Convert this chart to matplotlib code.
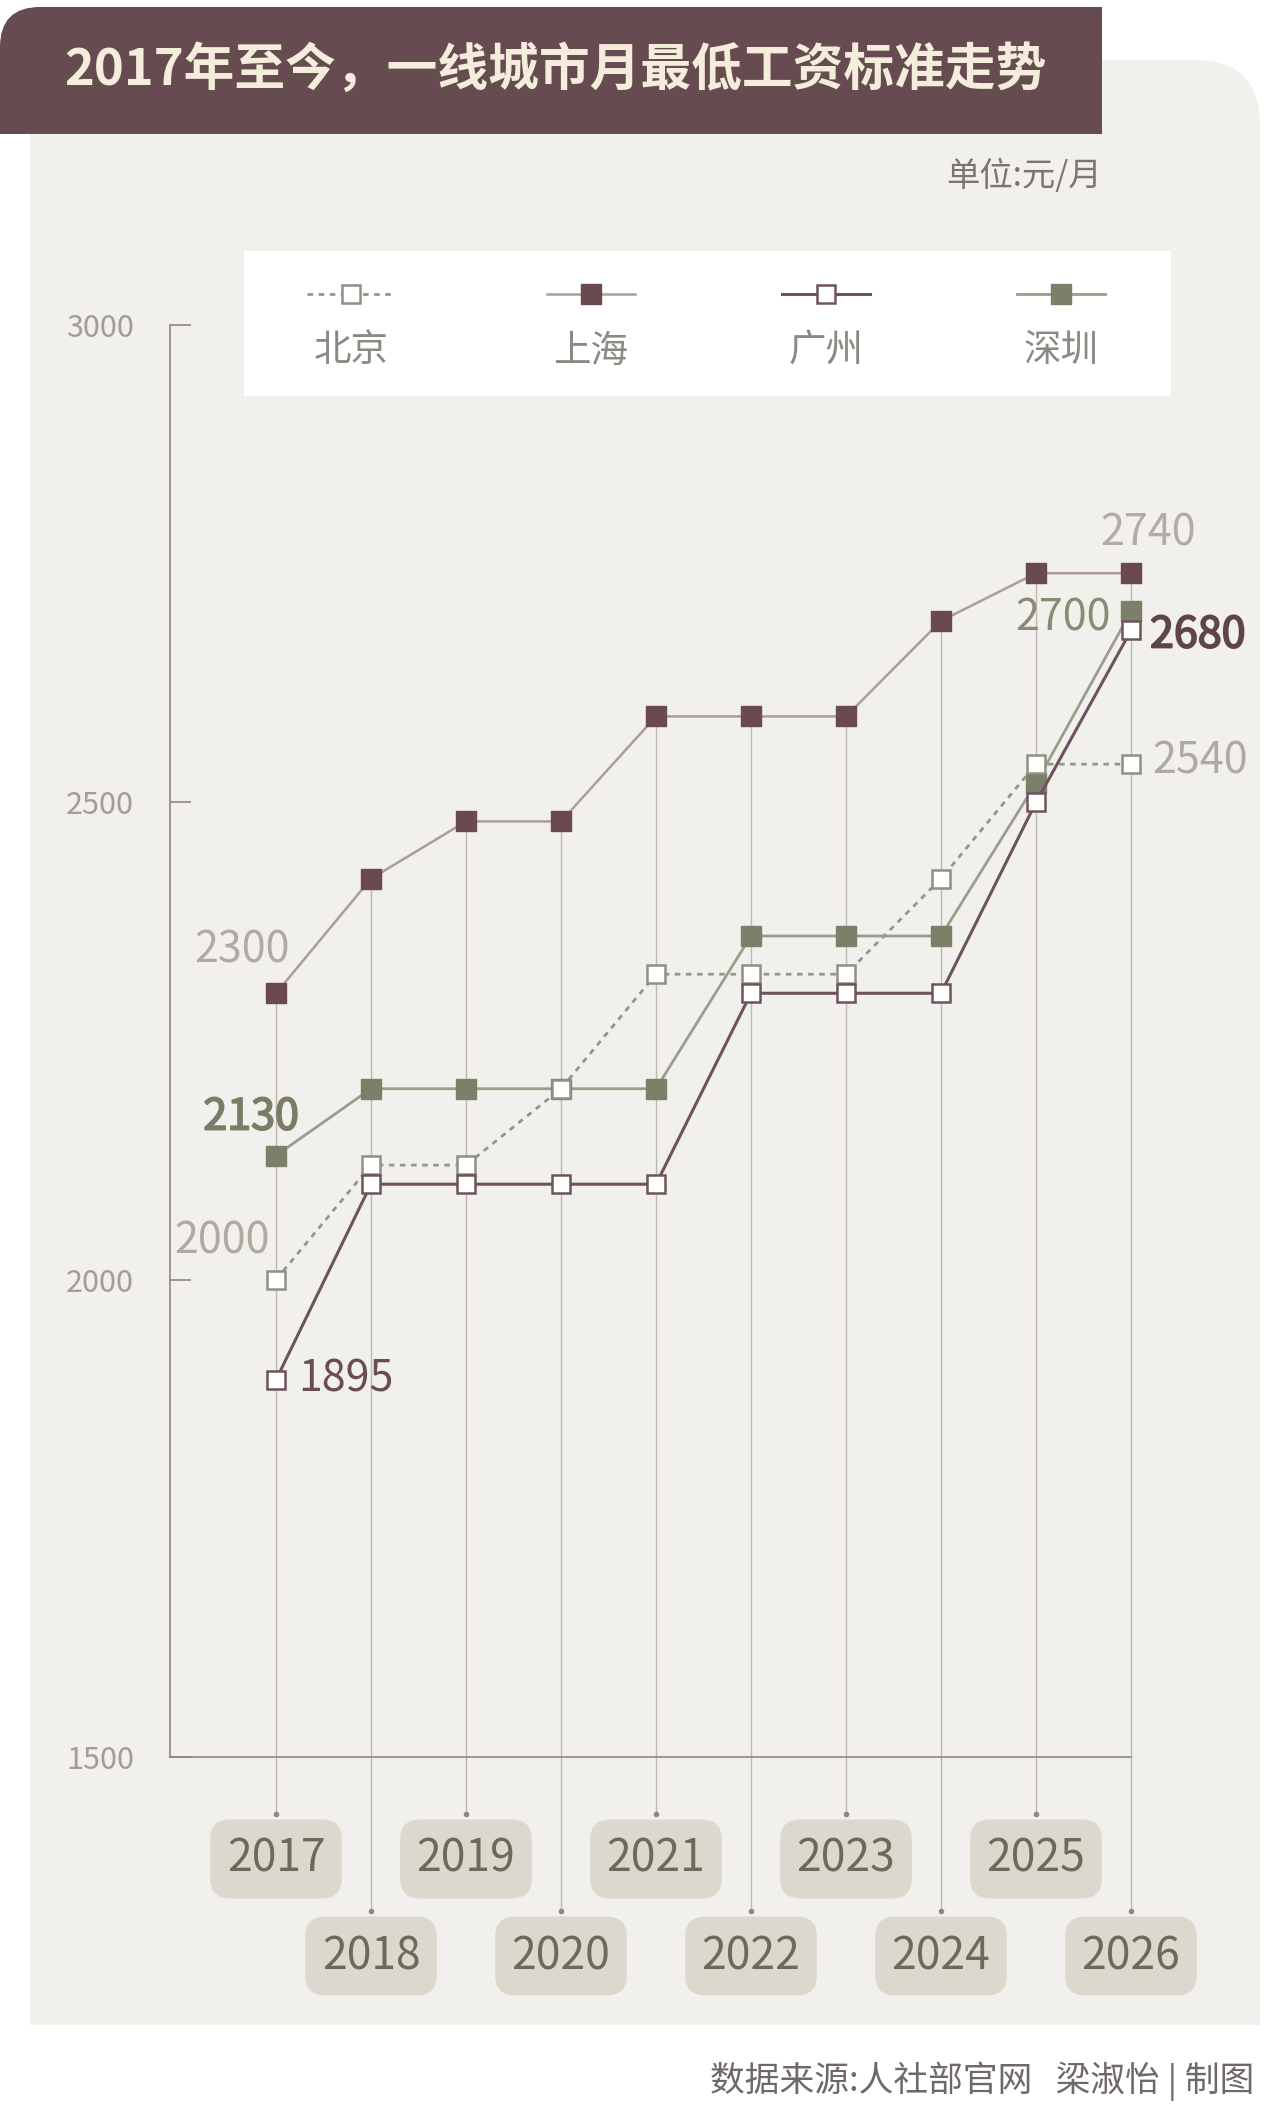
import matplotlib
matplotlib.use("Agg")
import matplotlib.pyplot as plt
import matplotlib.patheffects as pe
from matplotlib.patches import FancyBboxPatch, Rectangle
from matplotlib import transforms

plt.rcParams['font.family'] = ['Noto Sans CJK SC', 'DejaVu Sans']

# data (yuan / month)
years = [2017, 2018, 2019, 2020, 2021, 2022, 2023, 2024, 2025, 2026]
beijing = [2000, 2120, 2120, 2200, 2320, 2320, 2320, 2420, 2540, 2540]
shanghai = [2300, 2420, 2480, 2480, 2590, 2590, 2590, 2690, 2740, 2740]
guangzhou = [1895, 2100, 2100, 2100, 2100, 2300, 2300, 2300, 2500, 2680]
shenzhen = [2130, 2200, 2200, 2200, 2200, 2360, 2360, 2360, 2520, 2700]
city_names = ['北京', '上海', '广州', '深圳']
y_ticks = [1500, 2000, 2500, 3000]

W, H = 1267, 2109
fig = plt.figure(figsize=(W / 100, H / 100), dpi=100)
fig.patch.set_facecolor('white')

# background layer in pixel coordinates
bg = fig.add_axes([0, 0, 1, 1], zorder=0)
bg.set_xlim(0, W)
bg.set_ylim(H, 0)
bg.axis('off')

panel_c = '#f2f0ec'
bg.add_patch(FancyBboxPatch((30, 60), 1230, 1965, boxstyle='round,pad=0,rounding_size=65',
                            fc=panel_c, ec='none'))
bg.add_patch(Rectangle((30, 200), 1230, 1825, fc=panel_c, ec='none'))

bar_c = '#664b50'
bg.add_patch(FancyBboxPatch((0, 7), 1102, 127, boxstyle='round,pad=0,rounding_size=40',
                            fc=bar_c, ec='none'))
bg.add_patch(Rectangle((40, 7), 1062, 127, fc=bar_c, ec='none'))
bg.add_patch(Rectangle((0, 47), 1102, 87, fc=bar_c, ec='none'))
bg.text(64, 70, '2017年至今，一线城市月最低工资标准走势', fontsize=36.5, weight='bold',
        color='#f5eddb', ha='left', va='center')
bg.text(1102, 176, '单位:元/月', fontsize=24, color='#7b7471', ha='right', va='center')
bg.text(1254, 2081, '数据来源:人社部官网   梁淑怡 | 制图', fontsize=25, color='#6f6869',
        ha='right', va='center')

# series styles
sh_line, sh_mk = '#ab9d9c', '#6a4950'
gz_c = '#6e545a'
sz_line, sz_mk = '#9c9c89', '#7e7f69'
bj_c = '#959588'

styles = [
    dict(color=bj_c, lw=2, ls=(0, (2, 2)), marker='s', ms=13.5, mfc='white', mec='#8f8f82', mew=1.8),
    dict(color=sh_line, lw=1.8, ls='-', marker='s', ms=14.5, mfc=sh_mk, mec=sh_mk),
    dict(color=gz_c, lw=2.2, ls='-', marker='s', ms=13.5, mfc='white', mec=gz_c, mew=1.8),
    dict(color=sz_line, lw=2, ls='-', marker='s', ms=14.5, mfc=sz_mk, mec=sz_mk),
]

# legend panel
bg.add_patch(Rectangle((244, 251), 927, 145, fc='white', ec='none'))
leg_x = [351, 591, 826, 1061]
for name, cx, st in zip(city_names, leg_x, styles):
    bg.plot([cx - 44, cx + 44], [294, 294], color=st['color'], lw=st['lw'], ls=st['ls'])
    bg.plot([cx], [294], ls='none', marker='s', ms=st['ms'], mfc=st['mfc'], mec=st['mec'],
            mew=st.get('mew', 1))
    bg.text(cx, 351, name, fontsize=27, color='#8c8882', ha='center', va='center')

# main chart
ax = fig.add_axes([170 / W, (H - 1757) / H, (1131 - 170) / W, (1757 - 325) / H], zorder=1)
ax.set_facecolor('none')
ax.set_xlim(2017 - 106 / 95, 2026)
ax.set_ylim(1500, 3000)
for s in ['top', 'right']:
    ax.spines[s].set_visible(False)
for s in ['left', 'bottom']:
    ax.spines[s].set_color('#8e8883')
    ax.spines[s].set_linewidth(1.2)
ax.set_xticks([])
ax.set_yticks(y_ticks)
ax.tick_params(axis='y', direction='in', length=15, width=1.2, color='#8e8883', pad=26,
               labelsize=22, labelcolor='#a39d97')

blend = transforms.blended_transform_factory(ax.transData, bg.transData)
to_data = lambda py: ax.transData.inverted().transform(bg.transData.transform((0, py)))[1]

# drop lines and year tags
row_centers = [1859, 1956]
row_tops = [1814, 1911]
tops = [max(v) for v in zip(beijing, shanghai, guangzhou, shenzhen)]
for i, (yr, top) in enumerate(zip(years, tops)):
    row = i % 2
    end = to_data(row_tops[row])
    ax.plot([yr, yr], [top, end], color='#bdb8b2', lw=1, zorder=0.5, clip_on=False)
    ax.plot([yr], [end], marker='o', ms=3, color='#8e8883', zorder=6, clip_on=False)
    ax.text(yr, row_centers[row], str(yr), transform=blend, fontsize=32, color='#6b6a5b',
            ha='center', va='center', zorder=5, clip_on=False,
            bbox=dict(boxstyle='round,pad=0.37,rounding_size=0.45', fc='#dcd8cd', ec='none'))

series = [beijing, shanghai, guangzhou, shenzhen]
orders = [5, 3, 6, 4]
for vals, st, z in zip(series, styles, orders):
    ax.plot(years, vals, zorder=z, clip_on=False, **st)

# value labels: (series, index, offset px, ha, colour, heavier)
labels = [
    (shanghai, 0, (-34, 43), 'center', '#b3a7a8', False),
    (shenzhen, 0, (-25, 38), 'center', '#7b7c66', True),
    (beijing, 0, (-54, 38), 'center', '#aeaa9f', False),
    (guangzhou, 0, (22, 0), 'left', '#6b4c53', False),
    (shanghai, 9, (17, 40), 'center', '#b3aaa9', False),
    (shenzhen, 9, (-20, -7), 'right', '#8a8a75', False),
    (guangzhou, 9, (19, -5), 'left', '#5f444a', True),
    (beijing, 9, (21, 3), 'left', '#aeaaa3', False),
]
for vals, idx, off, ha, col, heavy in labels:
    t = ax.annotate(str(vals[idx]), (years[idx], vals[idx]), xytext=off,
                    textcoords='offset pixels', ha=ha, va='center', fontsize=31, color=col,
                    zorder=8, annotation_clip=False)
    if heavy:
        t.set_path_effects([pe.withStroke(linewidth=1.3, foreground=col)])

fig.savefig('out.png', dpi=100)
